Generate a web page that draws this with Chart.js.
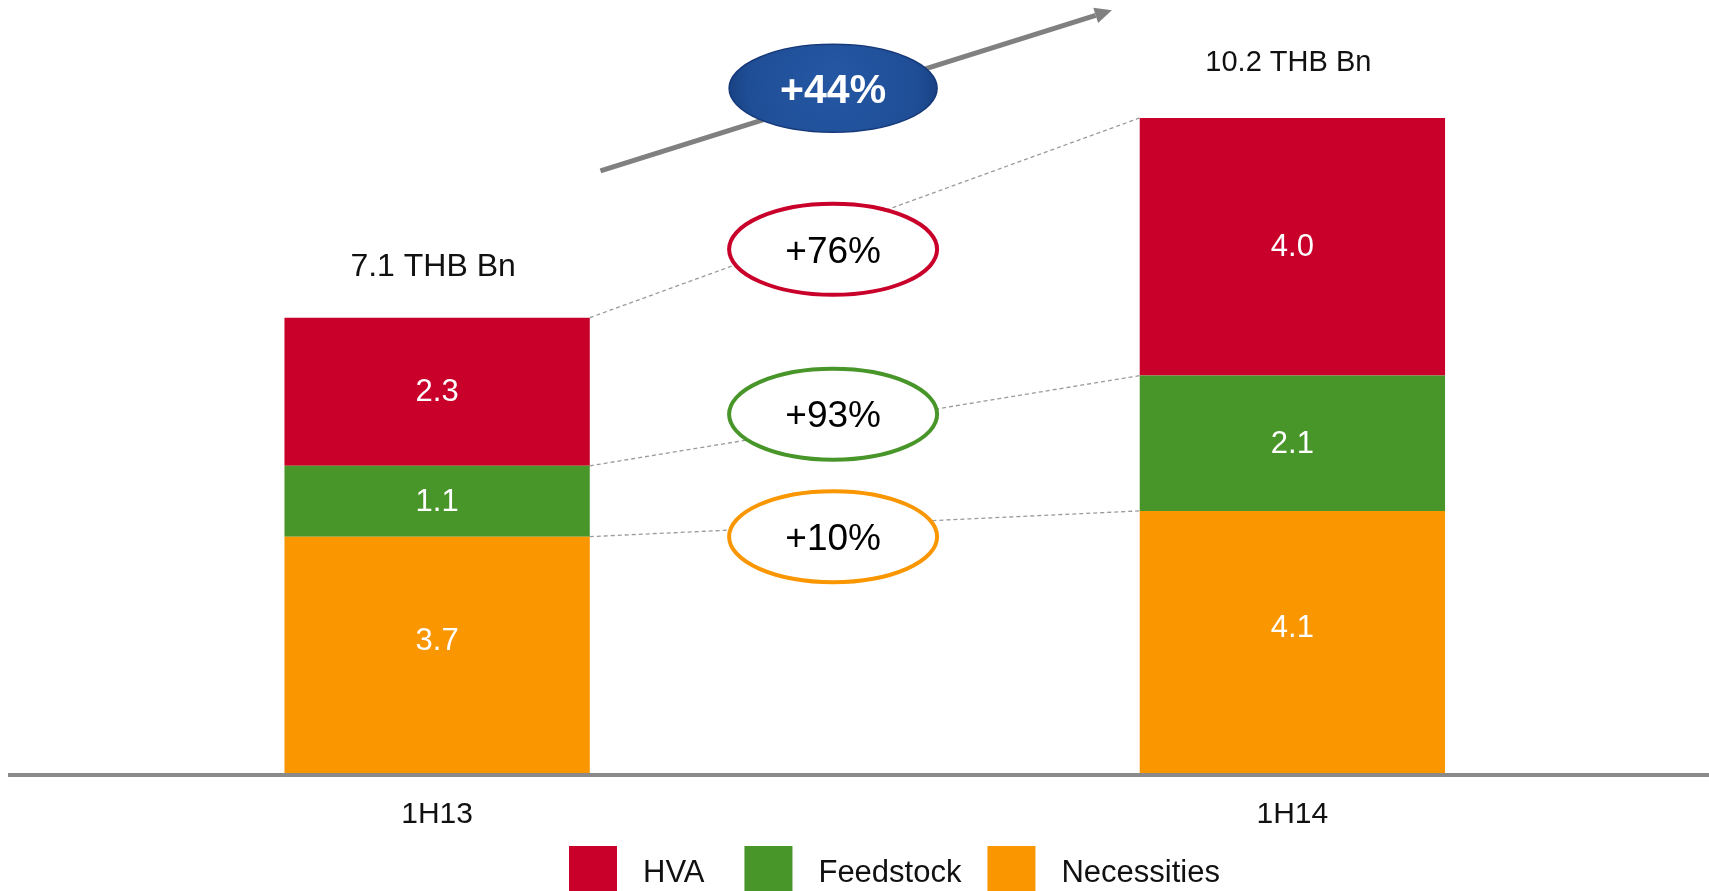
<!DOCTYPE html>
<html>
<head>
<meta charset="utf-8">
<title>1H13 / 1H14 — THB Bn</title>
<script src="https://cdn.jsdelivr.net/npm/chart.js@4.4.1/dist/chart.umd.min.js"></script>
<style>
  html, body { margin: 0; padding: 0; background: #fff; overflow: hidden; }
  #wrap { width: 1720px; height: 891px; }
</style>
</head>
<body>
<div id="wrap"><canvas id="chart" width="1720" height="891"></canvas></div>
<script>
// ---- Data ----
const periods      = ['1H13', '1H14'];
const necessities  = [3.7, 4.1];
const feedstock    = [1.1, 2.1];
const hva          = [2.3, 4.0];
// growth labels, same order as the datasets (Necessities, Feedstock, HVA)
const growthLabels = ['+10%', '+93%', '+76%'];
const totalGrowth  = '+44%';
const totalUnit    = 'THB Bn';

// ---- Styles ----
const FONT   = '"Liberation Sans", Arial, sans-serif';
const COLORS = { hva: '#C8002A', feedstock: '#48962A', necessities: '#F99600' };
const TEXT   = '#111111';

// positions of the annotations, in scale units (f = fraction between the two categories)
const BADGE_Y       = [3.70, 5.60, 8.16];
const BADGE_F       = 0.463;
const TOTAL_BADGE   = { f: 0.463, v: 10.66 };
const ARROW         = { from: { f: 0.191, v: 9.38 }, to: { f: 0.789, v: 11.87 } };
const TOTAL_FONTS   = [32, 29];
const TOTAL_OFFSETS = [-42, -47];      // px above the top of each bar
const LABEL_SHIFT   = [-15, 0, 0];     // px shift of the value labels, per dataset
const LEGEND_GAPS   = [40, 26];        // px between a legend text and the next box

const overlayPlugin = {
    id: 'overlay',
    afterDraw(chart) {
        const { ctx } = chart;
        const xs = chart.scales.x;
        const ys = chart.scales.y;
        const metas = chart.data.datasets.map((_, i) => chart.getDatasetMeta(i));
        const at = (p) => {
            const x0 = xs.getPixelForValue(0);
            const x1 = xs.getPixelForValue(1);
            return { x: x0 + (x1 - x0) * p.f, y: ys.getPixelForValue(p.v) };
        };

        ctx.save();

        // ---- values inside the segments ----
        ctx.font = `31px ${FONT}`;
        ctx.fillStyle = '#ffffff';
        ctx.textAlign = 'center';
        ctx.textBaseline = 'middle';
        metas.forEach((m, i) => m.data.forEach((el, j) => {
            const v = chart.data.datasets[i].data[j];
            ctx.fillText(v.toFixed(1), el.x, (el.y + el.base) / 2 + 1 + LABEL_SHIFT[i]);
        }));

        // ---- totals above the bars ----
        const topMeta = metas[metas.length - 1];
        ctx.fillStyle = TEXT;
        ctx.textBaseline = 'alphabetic';
        periods.forEach((p, j) => {
            const total = chart.data.datasets.reduce((s, d) => s + d.data[j], 0);
            const el = topMeta.data[j];
            ctx.font = `${TOTAL_FONTS[j]}px ${FONT}`;
            ctx.fillText(`${total.toFixed(1)} ${totalUnit}`, el.x - 4, el.y + TOTAL_OFFSETS[j]);
        });

        // ---- dashed connectors between the two bars ----
        ctx.setLineDash([4, 3]);
        ctx.strokeStyle = '#9a9a9a';
        ctx.lineWidth = 1.3;
        metas.forEach(m => {
            const a = m.data[0], b = m.data[1];
            ctx.beginPath();
            ctx.moveTo(a.x + a.width / 2, a.y);
            ctx.lineTo(b.x - b.width / 2, b.y);
            ctx.stroke();
        });
        ctx.setLineDash([]);

        // ---- growth arrow ----
        const p0 = at(ARROW.from), p1 = at(ARROW.to);
        const ang = Math.atan2(p1.y - p0.y, p1.x - p0.x);
        const head = 17;
        ctx.strokeStyle = '#808080';
        ctx.fillStyle = '#808080';
        ctx.lineWidth = 5;
        ctx.beginPath();
        ctx.moveTo(p0.x, p0.y);
        ctx.lineTo(p1.x - Math.cos(ang) * head, p1.y - Math.sin(ang) * head);
        ctx.stroke();
        ctx.beginPath();
        ctx.moveTo(p1.x, p1.y);
        ctx.lineTo(p1.x - Math.cos(ang) * head + Math.sin(ang) * 8,
                   p1.y - Math.sin(ang) * head - Math.cos(ang) * 8);
        ctx.lineTo(p1.x - Math.cos(ang) * head - Math.sin(ang) * 8,
                   p1.y - Math.sin(ang) * head + Math.cos(ang) * 8);
        ctx.closePath();
        ctx.fill();

        // ---- total growth badge ----
        const c = at(TOTAL_BADGE);
        const grad = ctx.createRadialGradient(c.x, c.y - 10, 10, c.x, c.y, 110);
        grad.addColorStop(0, '#2456A2');
        grad.addColorStop(0.75, '#1F4E96');
        grad.addColorStop(1, '#173E7E');
        ctx.fillStyle = grad;
        ctx.beginPath();
        ctx.ellipse(c.x, c.y, 104, 44, 0, 0, Math.PI * 2);
        ctx.fill();
        ctx.strokeStyle = '#16397A';
        ctx.lineWidth = 1.5;
        ctx.stroke();
        ctx.fillStyle = '#ffffff';
        ctx.font = `bold 41px ${FONT}`;
        ctx.textAlign = 'center';
        ctx.textBaseline = 'middle';
        ctx.fillText(totalGrowth, c.x, c.y + 3);

        // ---- growth badges per segment ----
        chart.data.datasets.forEach((ds, i) => {
            const b = at({ f: BADGE_F, v: BADGE_Y[i] });
            ctx.beginPath();
            ctx.ellipse(b.x, b.y, 104, 45.5, 0, 0, Math.PI * 2);
            ctx.fillStyle = '#ffffff';
            ctx.fill();
            ctx.strokeStyle = ds.backgroundColor;
            ctx.lineWidth = 4;
            ctx.stroke();
            ctx.fillStyle = '#000000';
            ctx.font = `37px ${FONT}`;
            ctx.fillText(growthLabels[i], b.x, b.y + 3);
        });

        // ---- legend (HVA, Feedstock, Necessities) ----
        const items = chart.data.datasets.slice().reverse();
        ctx.font = `31px ${FONT}`;
        ctx.textAlign = 'left';
        ctx.textBaseline = 'middle';
        let x = 569;
        items.forEach((ds, k) => {
            ctx.fillStyle = ds.backgroundColor;
            ctx.fillRect(x, 846, 48, 50);
            ctx.fillStyle = TEXT;
            ctx.fillText(ds.label, x + 74, 873);
            x += 74 + ctx.measureText(ds.label).width + (LEGEND_GAPS[k] || 0);
        });

        ctx.restore();
    }
};

new Chart(document.getElementById('chart'), {
    type: 'bar',
    data: {
        labels: periods,
        datasets: [
            { label: 'Necessities', data: necessities, backgroundColor: COLORS.necessities },
            { label: 'Feedstock',   data: feedstock,   backgroundColor: COLORS.feedstock },
            { label: 'HVA',         data: hva,         backgroundColor: COLORS.hva }
        ].map(d => ({ ...d, borderWidth: 0, barPercentage: 0.357, categoryPercentage: 1 }))
    },
    options: {
        responsive: false,
        animation: false,
        layout: { padding: { left: 9.5, right: 0, top: 2, bottom: 36 } },
        plugins: {
            legend : { display: false },
            tooltip: { enabled: false }
        },
        scales: {
            x: {
                stacked: true,
                offset : true,
                grid   : { display: false, drawTicks: false },
                border : { display: true, color: '#8a8a8a', width: 4, z: 1 },
                ticks  : { color: TEXT, font: { family: FONT, size: 30 }, padding: 22 }
            },
            y: {
                stacked: true,
                display: false,
                min    : 0,
                max    : 12
            }
        }
    },
    plugins: [overlayPlugin]
});
</script>
</body>
</html>
